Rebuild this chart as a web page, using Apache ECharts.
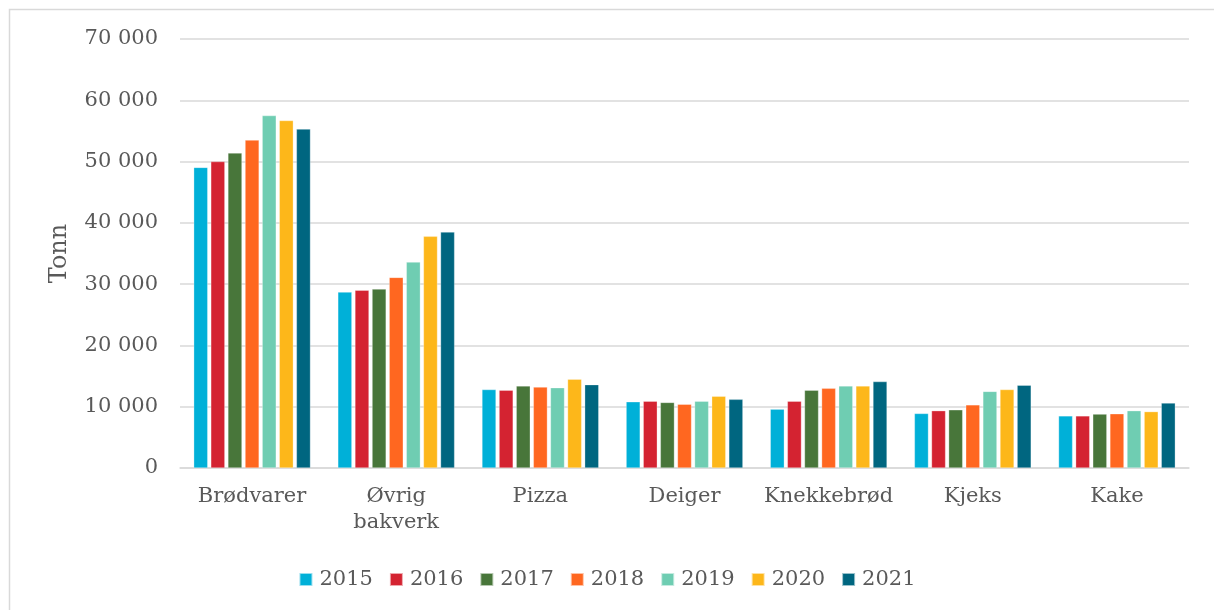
<!DOCTYPE html>
<html>
<head>
<meta charset="utf-8">
<script src="https://cdn.jsdelivr.net/npm/echarts@6/dist/echarts.min.js"></script>
<style>
html,body{margin:0;padding:0;background:#fff;}
#c{width:1214px;height:610px;}
</style>
</head>
<body>
<div id="c"></div>
<script>
const categories = ['Brødvarer', 'Øvrig\nbakverk', 'Pizza', 'Deiger', 'Knekkebrød', 'Kjeks', 'Kake'];
const years = ['2015', '2016', '2017', '2018', '2019', '2020', '2021'];
const v2015 = [49050, 28700, 12800, 10800, 9600, 8900, 8500];
const v2016 = [50000, 29000, 12700, 10900, 10900, 9350, 8500];
const v2017 = [51400, 29200, 13400, 10700, 12700, 9500, 8800];
const v2018 = [53500, 31100, 13200, 10400, 13000, 10300, 8850];
const v2019 = [57500, 33600, 13100, 10900, 13400, 12500, 9350];
const v2020 = [56700, 37800, 14500, 11700, 13400, 12800, 9200];
const v2021 = [55300, 38500, 13600, 11200, 14100, 13500, 10600];
const seriesValues = [v2015, v2016, v2017, v2018, v2019, v2020, v2021];
const colors = ['#00B0D8', '#D42331', '#48763A', '#FF6720', '#6FCDB2', '#FDB71A', '#006680'];
const yTicks = { min: 0, max: 70000, interval: 10000 };

const FONT = 'DejaVu Serif';
const TXT = '#595959';

const chart = echarts.init(document.getElementById('c'), null, { renderer: 'canvas' });
chart.setOption({
  animation: false,
  color: colors,
  textStyle: { fontFamily: FONT, color: TXT },
  graphic: [{
    type: 'rect',
    shape: { x: 9.5, y: 9.5, width: 1220, height: 620 },
    style: { fill: 'none', stroke: '#d9d9d9', lineWidth: 1.5 },
    silent: true
  }],
  grid: { left: 180, right: 25, top: 39, bottom: 142 },
  legend: {
    top: 564,
    left: 'center',
    itemWidth: 13,
    itemHeight: 13,
    itemGap: 16,
    icon: 'rect',
    textStyle: { fontFamily: FONT, fontSize: 21, color: TXT, padding: [0, 0, 0, 2] },
    data: years
  },
  xAxis: {
    type: 'category',
    data: categories,
    axisTick: { show: false },
    axisLine: { lineStyle: { color: '#d9d9d9', width: 1.5 } },
    axisLabel: { fontFamily: FONT, fontSize: 21, color: TXT, margin: 16, lineHeight: 26, interval: 0 }
  },
  yAxis: {
    type: 'value',
    min: yTicks.min,
    max: yTicks.max,
    interval: yTicks.interval,
    name: 'Tonn',
    nameLocation: 'middle',
    nameGap: 108,
    nameRotate: 90,
    nameTextStyle: { fontFamily: FONT, fontSize: 24, color: TXT },
    axisLine: { show: false },
    axisTick: { show: false },
    splitLine: { lineStyle: { color: '#d9d9d9', width: 1.5 } },
    axisLabel: {
      fontFamily: FONT, fontSize: 21, color: TXT, margin: 22,
      formatter: v => String(v).replace(/\B(?=(\d{3})+(?!\d))/g, ' ')
    }
  },
  series: years.map((y, i) => ({
    name: y,
    type: 'bar',
    data: seriesValues[i],
    barGap: '22%',
    barCategoryGap: '19%',
    itemStyle: { color: colors[i], borderColor: 'rgba(255,255,255,0.6)', borderWidth: 0.5 }
  }))
});
</script>
</body>
</html>
